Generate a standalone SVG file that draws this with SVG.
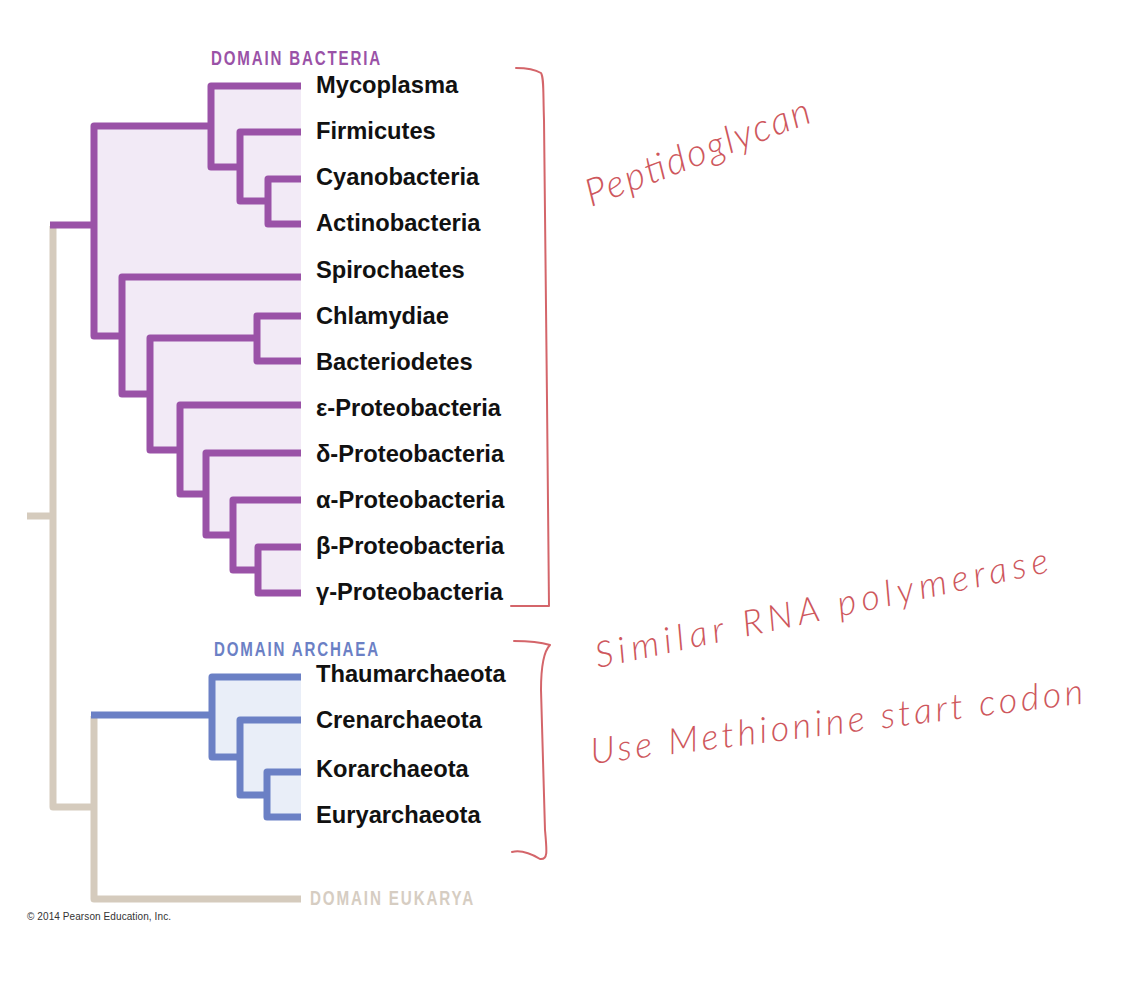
<svg xmlns="http://www.w3.org/2000/svg" width="1143" height="1003" viewBox="0 0 1143 1003">
<style>
.bg{fill:#ffffff}
.bac{fill:none;stroke:#9a52a7;stroke-width:7;stroke-linejoin:round}
.arc{fill:none;stroke:#6b80c5;stroke-width:7;stroke-linejoin:round}
.euk{fill:none;stroke:#d5cbbd;stroke-width:7;stroke-linejoin:round}
.bacfill{fill:#f2eaf6}
.arcfill{fill:#e9eef8}
.leaf{font-family:"Liberation Sans",Arial,sans-serif;font-weight:bold;font-size:23.7px;fill:#111}
.dom{font-family:"Liberation Sans",Arial,sans-serif;font-weight:bold;font-size:20.5px;letter-spacing:2.5px}
.hand{font-family:Lato,"Open Sans",sans-serif;font-style:italic;font-weight:300;fill:#c9454b;opacity:0.9}
.pen{fill:none;stroke:#cc4a50;stroke-width:2;stroke-linecap:round;stroke-linejoin:round;opacity:0.85}
</style>
<rect class="bg" x="0" y="0" width="1143" height="1003"/>

<g id="fills">
  <path class="bacfill" d="M211,86 H301 V593 H258 V570 H233 V535 H206 V494 H180 V450 H150 V394 H122 V336 H94 V126 H211 Z"/>
  <path class="arcfill" d="M212,677 H301 V817 H267 V795 H240 V757 H212 Z"/>
</g>

<g id="connectors">
  <path class="euk" d="M27,516 H53"/>
  <path class="euk" d="M53,226 V807 H94"/>
  <path class="euk" d="M94,716 V899 H301"/>
  <path class="bac" d="M50,225 H94"/>
  <path class="bac" d="M211,126 H94 V336 H122"/>
  <path class="bac" d="M301,86 H211 V167 H240"/>
  <path class="bac" d="M301,132 H240 V201 H268"/>
  <path class="bac" d="M301,179 H268 V224 H301"/>
  <path class="bac" d="M301,277 H122 V394 H150"/>
  <path class="bac" d="M257,338 H150 V450 H180"/>
  <path class="bac" d="M301,316 H257 V361 H301"/>
  <path class="bac" d="M301,405 H180 V494 H206"/>
  <path class="bac" d="M301,453 H206 V535 H233"/>
  <path class="bac" d="M301,500 H233 V570 H258"/>
  <path class="bac" d="M301,547 H258 V593 H301"/>
  <path class="arc" d="M91,715 H212"/>
  <path class="arc" d="M301,677 H212 V757 H240"/>
  <path class="arc" d="M301,720 H240 V795 H267"/>
  <path class="arc" d="M301,772 H267 V817 H301"/>
</g>

<g id="domain-bacteria"><text class="dom" x="211" y="65" fill="#9a52a7" textLength="171" lengthAdjust="spacingAndGlyphs">DOMAIN BACTERIA</text></g>
<g id="domain-archaea"><text class="dom" x="214" y="656" fill="#6b80c5" textLength="166" lengthAdjust="spacingAndGlyphs">DOMAIN ARCHAEA</text></g>
<g id="domain-eukarya"><text class="dom" x="310" y="905" fill="#d6cdc2" textLength="165" lengthAdjust="spacingAndGlyphs">DOMAIN EUKARYA</text></g>

<g id="mycoplasma"><text class="leaf" x="316" y="93">Mycoplasma</text></g>
<g id="firmicutes"><text class="leaf" x="316" y="139">Firmicutes</text></g>
<g id="cyanobacteria"><text class="leaf" x="316" y="185">Cyanobacteria</text></g>
<g id="actinobacteria"><text class="leaf" x="316" y="231">Actinobacteria</text></g>
<g id="spirochaetes"><text class="leaf" x="316" y="278">Spirochaetes</text></g>
<g id="chlamydiae"><text class="leaf" x="316" y="324">Chlamydiae</text></g>
<g id="bacteriodetes"><text class="leaf" x="316" y="370">Bacteriodetes</text></g>
<g id="epsilon"><text class="leaf" x="316" y="416">ε-Proteobacteria</text></g>
<g id="delta"><text class="leaf" x="316" y="462">δ-Proteobacteria</text></g>
<g id="alpha"><text class="leaf" x="316" y="508">α-Proteobacteria</text></g>
<g id="beta"><text class="leaf" x="316" y="554">β-Proteobacteria</text></g>
<g id="gamma"><text class="leaf" x="316" y="600">γ-Proteobacteria</text></g>

<g id="thaumarchaeota"><text class="leaf" x="316" y="682">Thaumarchaeota</text></g>
<g id="crenarchaeota"><text class="leaf" x="316" y="728">Crenarchaeota</text></g>
<g id="korarchaeota"><text class="leaf" x="316" y="777">Korarchaeota</text></g>
<g id="euryarchaeota"><text class="leaf" x="316" y="823">Euryarchaeota</text></g>

<g id="copyright"><text x="27" y="920" font-family="Liberation Sans,Arial,sans-serif" font-size="10" fill="#333" textLength="144">© 2014 Pearson Education, Inc.</text></g>

<g id="annotations">
  <path class="pen" d="M516,68 C526,68 536,70 541,73 C544,78 543,90 544,120 L547,400 L549,606 L511,606"/>
  <path class="pen" d="M514,641 C528,641 540,642 550,645 C545,650 541,660 541,690 L545,830 C547,852 548,860 540,859 C530,853 520,850 512,852"/>
  <text class="hand" font-size="38" x="591" y="207" transform="rotate(-21 591 207)" textLength="238">Peptidoglycan</text>
  <text class="hand" font-size="36" x="598" y="668" transform="rotate(-12 598 668)" textLength="462">Similar RNA polymerase</text>
  <text class="hand" font-size="36" x="592" y="764" transform="rotate(-7 592 764)" textLength="496">Use Methionine start codon</text>
</g>
</svg>
